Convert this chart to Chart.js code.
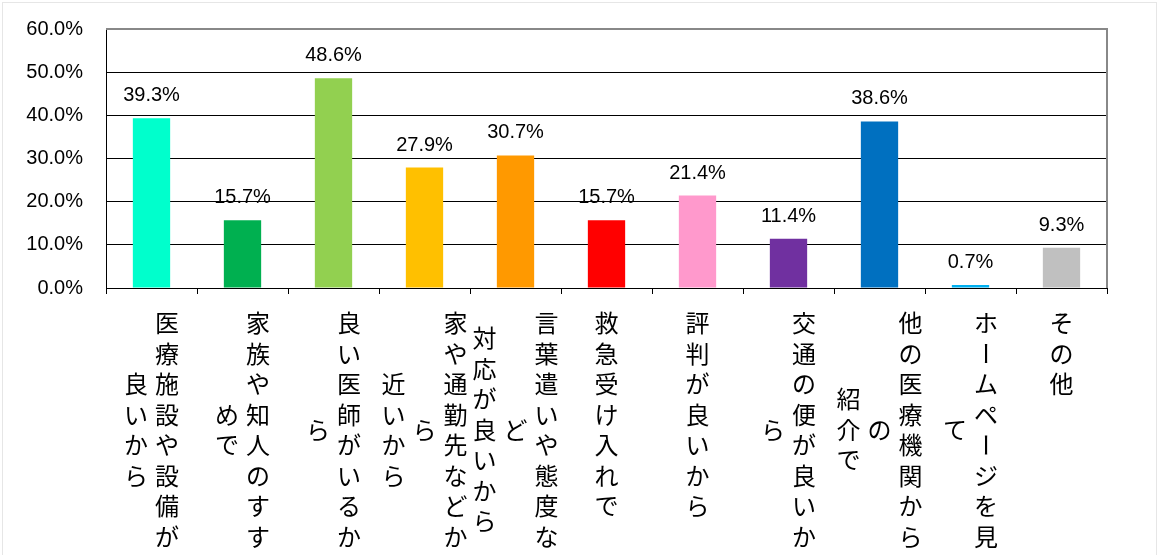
<!DOCTYPE html>
<html>
<head>
<meta charset="utf-8">
<script src="https://cdn.jsdelivr.net/npm/chart.js@4.4.1/dist/chart.umd.min.js"></script>
<style>
html,body{margin:0;padding:0;background:#fff;}
#wrap{width:1158px;height:555px;position:relative;}
</style>
</head>
<body>
<div id="wrap"><canvas id="mycanvas" width="1158" height="555"></canvas></div>
<script>
// categories (\n = forced column break, long columns wrap at 8 chars)
var categories = [
	"医療施設や設備が良いから",
	"家族や知人のすすめで",
	"良い医師がいるから",
	"家や通勤先などから\n近いから",
	"言葉遣いや態度など\n対応が良いから",
	"救急受け入れで",
	"評判が良いから",
	"交通の便が良いから",
	"他の医療機関からの\n紹介で",
	"ホームページを見て",
	"その他"
];
var percents = [39.3, 15.7, 48.6, 27.9, 30.7, 15.7, 21.4, 11.4, 38.6, 0.7, 9.3];
var barColors = ["#00FFCC", "#00B050", "#92D050", "#FFC000", "#FF9900", "#FF0000",
	"#FF99CC", "#7030A0", "#0070C0", "#00B0F0", "#C0C0C0"];
var yMin = 0, yMax = 60, yStep = 10;

function splitColumns(label, maxLen){
	var cols = [];
	label.split("\n").forEach(function(part){
		var chars = Array.from(part);
		for(var i=0;i<chars.length;i+=maxLen){
			cols.push(chars.slice(i, i+maxLen));
		}
	});
	return cols;
}

// light frame round the whole chart
var frame = {
	id:'frame',
	beforeDraw:function(chart){
		var ctx = chart.ctx;
		ctx.save();
		ctx.fillStyle = '#fff';
		ctx.fillRect(0,0,chart.width,chart.height);
		ctx.strokeStyle = '#e6e6e6';
		ctx.lineWidth = 1;
		ctx.strokeRect(2.5,2.5,1154,600);
		ctx.restore();
	},
	afterDatasetsDraw:function(chart){
		var ctx = chart.ctx, a = chart.chartArea;
		ctx.save();
		ctx.strokeStyle = '#888';
		ctx.lineWidth = 2;
		ctx.beginPath();
		ctx.moveTo(a.left, a.top);
		ctx.lineTo(a.right, a.top);
		ctx.lineTo(a.right, a.bottom);
		ctx.stroke();
		ctx.restore();
	}
};

// value labels above the bars
var valueLabels = {
	id:'valueLabels',
	afterDatasetsDraw:function(chart){
		var ctx = chart.ctx;
		var meta = chart.getDatasetMeta(0);
		ctx.save();
		ctx.font = '20px "Liberation Sans", Arial, sans-serif';
		ctx.fillStyle = '#000';
		ctx.textAlign = 'center';
		ctx.textBaseline = 'alphabetic';
		meta.data.forEach(function(bar, i){
			ctx.fillText(percents[i].toFixed(1) + '%', bar.x, bar.y - 17);
		});
		ctx.restore();
	}
};

// vertical (tategaki) category labels, columns right to left
var verticalLabels = {
	id:'verticalLabels',
	afterDraw:function(chart){
		var ctx = chart.ctx, xs = chart.scales.x;
		var pitch = 30.5, colGap = 31, top = 307.75;
		ctx.save();
		ctx.font = '24px "Noto Sans CJK JP", sans-serif';
		ctx.fillStyle = '#000';
		ctx.textAlign = 'center';
		ctx.textBaseline = 'middle';
		categories.forEach(function(label, i){
			var cols = splitColumns(label, 8);
			var maxLen = Math.max.apply(null, cols.map(function(c){ return c.length; }));
			var midY = top + maxLen*pitch/2;
			var cx = xs.getPixelForTick(i);
			cols.forEach(function(col, k){
				var x = cx + (cols.length-1)/2*colGap - k*colGap;
				var y0 = midY - col.length*pitch/2;
				for(var j=0;j<col.length;j++){
					var y = y0 + (j+0.5)*pitch;
					if(col[j] === 'ー'){
						ctx.save();
						ctx.translate(x, y);
						ctx.rotate(Math.PI/2);
						ctx.fillText(col[j], 0, 0);
						ctx.restore();
					} else {
						ctx.fillText(col[j], x, y);
					}
				}
			});
		});
		ctx.restore();
	}
};

var ctx = document.getElementById('mycanvas');
var barGraph = new Chart(ctx, {
	type:'bar',
	data:{
		labels:categories,
		datasets:[{
			data:percents,
			backgroundColor:barColors,
			borderWidth:0,
			barPercentage:0.41,
			categoryPercentage:1
		}]
	},
	options:{
		responsive:false,
		animation:false,
		devicePixelRatio:1,
		layout:{padding:{top:29, right:51, left:0, bottom:0}},
		plugins:{legend:{display:false}, tooltip:{enabled:false}},
		scales:{
			x:{
				grid:{display:true, drawOnChartArea:false, drawTicks:true, tickLength:6, color:'#000'},
				border:{display:true, color:'#000', width:1},
				ticks:{display:false},
				afterFit:function(scale){ scale.height = 555 - 288; }
			},
			y:{
				min:yMin, max:yMax,
				ticks:{
					stepSize:yStep,
					padding:23,
					color:'#000',
					font:{family:'"Liberation Sans", Arial, sans-serif', size:20},
					callback:function(v){ return v.toFixed(1) + '%'; }
				},
				grid:{drawTicks:false, color:'#000', lineWidth:1},
				border:{display:true, color:'#000', width:1},
				afterFit:function(scale){
					scale.width = 106;
					scale.paddingTop = 12;
					scale.paddingBottom = 12;
				}
			}
		}
	},
	plugins:[frame, valueLabels, verticalLabels]
});
</script>
</body>
</html>
